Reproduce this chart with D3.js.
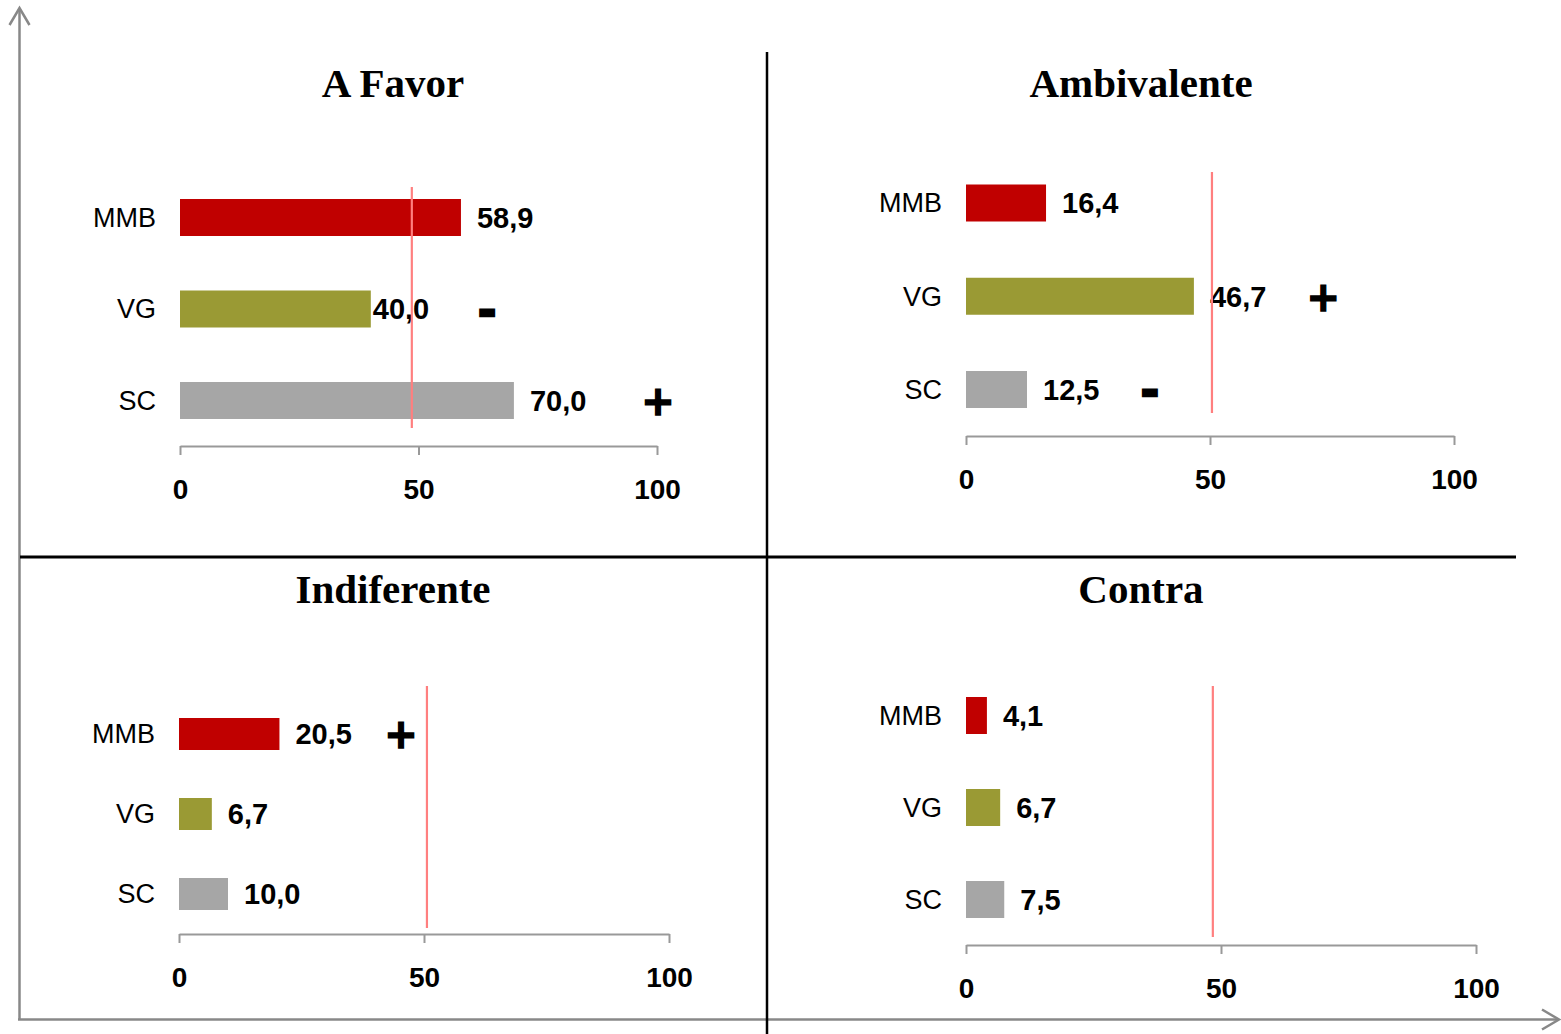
<!DOCTYPE html>
<html><head><meta charset="utf-8">
<script src="https://cdn.jsdelivr.net/npm/d3@7"></script>
<style>html,body{margin:0;padding:0;background:#fff;}svg{display:block;}</style>
</head><body>
<script>
// ---- data ----
const categories = ["MMB", "VG", "SC"];
const panelTitles = ["A Favor", "Ambivalente", "Indiferente", "Contra"];
const aFavor = [58.9, 40.0, 70.0];
const ambivalente = [16.4, 46.7, 12.5];
const indiferente = [20.5, 6.7, 10.0];
const contra = [4.1, 6.7, 7.5];
const signsAFavor = ["", "-", "+"];
const signsAmbivalente = ["", "+", "-"];
const signsIndiferente = ["+", "", ""];
const signsContra = ["", "", ""];
const refValues = [48.6, 50.4, 50.6, 48.4];
const tickValues = [0, 50, 100];
const tickLabels = ["0", "50", "100"];

const seriesValues = [aFavor, ambivalente, indiferente, contra];
const seriesSigns = [signsAFavor, signsAmbivalente, signsIndiferente, signsContra];

// ---- layout (positions/styles) ----
const colors = ["#c00000", "#9a9a34", "#a6a6a6"];
const layout = [
  {x0: 180, x1: 657, axisY: 446, c0: 217.5, c1: 400.5, barH: 37, titleX: 393, titleY: 97, refTop: 187, refBottom: 428, signX: [0, 64.4, 100.2], labelDx: [16, 2, 16]},
  {x0: 966, x1: 1454, axisY: 436, c0: 203, c1: 389.5, barH: 37, titleX: 1141, titleY: 97, refTop: 172, refBottom: 413, signX: [0, 73.2, 37.7], labelDx: [16, 16, 16]},
  {x0: 179, x1: 669, axisY: 934, c0: 734, c1: 894, barH: 32, titleX: 393, titleY: 603, refTop: 686, refBottom: 928, signX: [45.3, 0, 0], labelDx: [16, 16, 16]},
  {x0: 966, x1: 1476, axisY: 945, c0: 715.5, c1: 899.5, barH: 37, titleX: 1141, titleY: 603, refTop: 686, refBottom: 937, signX: [0, 0, 0], labelDx: [16, 16, 16]}
];

const W = 1561, H = 1034;
const svg = d3.select("body").append("svg").attr("width", W).attr("height", H);

// frame: gray arrows
const gray = "#888888";
svg.append("line").attr("x1", 19.5).attr("y1", 1020).attr("x2", 19.5).attr("y2", 8)
  .attr("stroke", gray).attr("stroke-width", 2.5);
svg.append("path").attr("d", "M9.5,25 L19.5,8 L29.5,25").attr("fill", "none")
  .attr("stroke", gray).attr("stroke-width", 2.5);
svg.append("line").attr("x1", 18).attr("y1", 1019.5).attr("x2", 1558).attr("y2", 1019.5)
  .attr("stroke", gray).attr("stroke-width", 2.5);
svg.append("path").attr("d", "M1542,1009.5 L1559,1019.5 L1542,1029.5").attr("fill", "none")
  .attr("stroke", gray).attr("stroke-width", 2.5);

// black dividers
svg.append("line").attr("x1", 20).attr("y1", 557).attr("x2", 1516).attr("y2", 557)
  .attr("stroke", "#000").attr("stroke-width", 3);
svg.append("line").attr("x1", 767).attr("y1", 52).attr("x2", 767).attr("y2", 1034)
  .attr("stroke", "#000").attr("stroke-width", 2.5);

panelTitles.forEach((title, i) => {
  const L = layout[i];
  const vals = seriesValues[i];
  const signs = seriesSigns[i];
  const g = svg.append("g");
  const x = d3.scaleLinear().domain([0, 100]).range([L.x0, L.x1]);
  const y = d3.scalePoint().domain(categories).range([L.c0, L.c1]);

  // title
  g.append("text").attr("x", L.titleX).attr("y", L.titleY).attr("text-anchor", "middle")
    .attr("font-family", "'Liberation Serif', 'DejaVu Serif', serif").attr("font-weight", "bold")
    .attr("font-size", 41).text(title);

  // axis
  const axis = d3.axisBottom(x).tickValues(tickValues).tickFormat((d, k) => tickLabels[k])
    .tickSizeInner(9).tickSizeOuter(0).tickPadding(24);
  const ax = g.append("g").attr("transform", `translate(0,${L.axisY})`).call(axis);
  ax.select(".domain").attr("stroke", "#999").attr("stroke-width", 2);
  ax.selectAll(".tick line").attr("stroke", "#999").attr("stroke-width", 2);
  ax.selectAll(".tick text").attr("fill", "#000").attr("font-family", "Arial, 'Liberation Sans', sans-serif")
    .attr("font-weight", "bold").attr("font-size", 28);

  // bars
  g.selectAll("rect.bar").data(vals).enter().append("rect")
    .attr("x", x(0)).attr("y", (d, k) => y(categories[k]) - L.barH / 2)
    .attr("width", d => x(d) - x(0)).attr("height", L.barH)
    .attr("fill", (d, k) => colors[k]);

  // category labels
  g.selectAll("text.cat").data(categories).enter().append("text")
    .attr("x", L.x0 - 24).attr("y", d => y(d))
    .attr("dy", "0.35em").attr("text-anchor", "end")
    .attr("font-family", "Arial, 'Liberation Sans', sans-serif").attr("font-size", 27)
    .attr("fill", "#000").text(d => d);

  // value labels
  g.selectAll("text.val").data(vals).enter().append("text")
    .attr("x", (d, k) => x(d) + L.labelDx[k]).attr("y", (d, k) => y(categories[k]))
    .attr("dy", "0.36em")
    .attr("font-family", "Arial, 'Liberation Sans', sans-serif").attr("font-weight", "bold").attr("font-size", 29)
    .attr("fill", "#000").text(d => d.toFixed(1).replace(".", ","));

  // reference line
  g.append("line").attr("x1", x(refValues[i])).attr("x2", x(refValues[i]))
    .attr("y1", L.refTop).attr("y2", L.refBottom)
    .attr("stroke", "#ff7f7f").attr("stroke-width", 2.2);

  // signs
  signs.forEach((s, k) => {
    if (!s) return;
    g.append("text").attr("x", x(L.signX[k])).attr("y", y(categories[k]))
      .attr("dy", s === "+" ? "0.36em" : "0.38em").attr("text-anchor", "middle")
      .attr("font-family", "'DejaVu Sans', sans-serif").attr("font-weight", "bold")
      .attr("font-size", s === "+" ? 40 : 44)
      .attr("fill", "#000").attr("stroke", "#000").attr("stroke-width", s === "+" ? 1.5 : 2.5)
      .text(s);
  });
});
</script>
</body></html>
